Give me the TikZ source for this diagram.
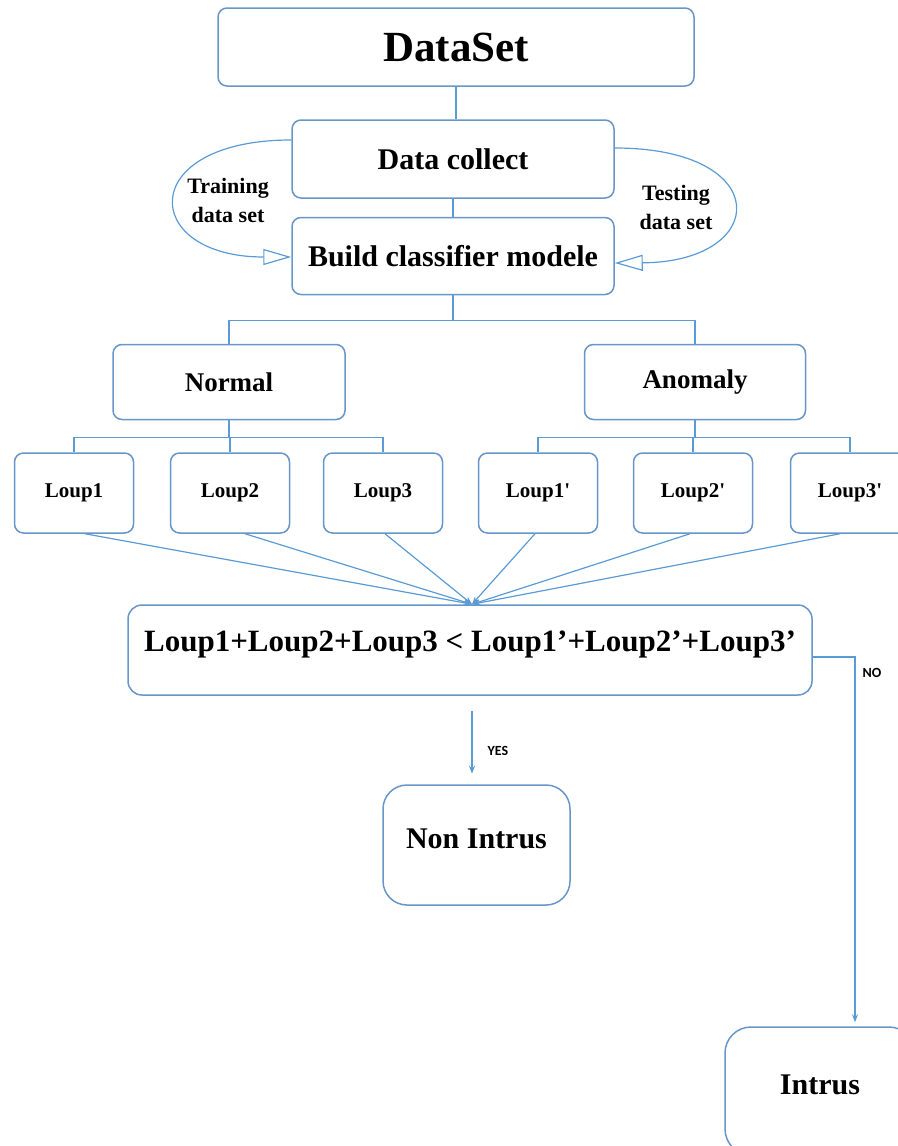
\documentclass[tikz,border=0pt]{standalone}
\usepackage{fontspec}
\setmainfont{Liberation Serif}
\newfontfamily\lblfont{Carlito}
\usetikzlibrary{arrows.meta,calc}
\definecolor{flow}{RGB}{91,155,213}
\definecolor{edge}{RGB}{104,150,200}

\begin{document}
\begin{tikzpicture}[x=1pt,y=-1pt,
  box/.style={draw=edge, line width=1.5pt, rounded corners=9pt, fill=white,
    inner sep=0pt, align=center, font=\bfseries},
  loupbox/.style={box, minimum width=119pt, minimum height=80pt,
    font=\bfseries\fontsize{21}{25}\selectfont},
  conn/.style={draw=flow, line width=1.2pt},
  fan/.style={conn, -{Stealth[length=8pt,width=6pt]}},
  loopline/.style={conn, -{Triangle[open,length=28pt,width=16pt,line width=1.2pt]}},
  sidetext/.style={align=center, font=\bfseries\fontsize{22}{29}\selectfont},
  yesno/.style={font=\lblfont\bfseries\fontsize{14}{16}\selectfont}]
\useasboundingbox (0,0) rectangle (897,1146);

% main chain
\node[box, minimum width=476pt, minimum height=78pt,
  font=\bfseries\fontsize{43}{48}\selectfont] (ds) at (456,47) {DataSet};
\node[box, minimum width=322pt, minimum height=78pt,
  font=\bfseries\fontsize{30}{34}\selectfont] (dc) at (453,159) {Data collect};
\node[box, minimum width=322pt, minimum height=77pt,
  font=\bfseries\fontsize{30}{34}\selectfont] (bc) at (453,256) {Build classifier modele};

% classes
\node[box, minimum width=232pt, minimum height=75pt,
  font=\bfseries\fontsize{27}{31}\selectfont] (normal) at (229,382) {Normal};
\node[box, minimum width=221pt, minimum height=75pt,
  font=\bfseries\fontsize{27}{31}\selectfont] (anomaly) at (695,382) {Anomaly};

% loups
\node[loupbox] (l1) at (74,493) {Loup1};
\node[loupbox] (l2) at (230,493) {Loup2};
\node[loupbox] (l3) at (383,493) {Loup3};
\node[loupbox] (m1) at (538,493) {Loup1\textquotesingle};
\node[loupbox] (m2) at (693,493) {Loup2\textquotesingle};
\node[loupbox] (m3) at (850,493) {Loup3\textquotesingle};

% decision and outcomes
\node[box, minimum width=684pt, rounded corners=14pt,
  text height=46pt, text depth=44pt,
  font=\bfseries\fontsize{31}{35}\selectfont] (cond) at (470,650)
  {Loup1+Loup2+Loup3 < Loup1’+Loup2’+Loup3’};
\node[box, minimum width=187pt, rounded corners=24pt,
  text height=63pt, text depth=57pt,
  font=\bfseries\fontsize{30}{34}\selectfont] (nonintrus) at (476.5,845) {Non Intrus};
\node[box, minimum width=190pt, rounded corners=26pt,
  text height=67pt, text depth=61pt,
  font=\bfseries\fontsize{30}{34}\selectfont] (intrus) at (820,1091) {Intrus};

% tree connectors
\draw[conn] (ds.south) -- (ds.south |- dc.north);
\draw[conn] (dc.south) -- (bc.north);
\draw[conn] (bc.south) -- ($(bc.south)+(0,25)$) coordinate (split);
\draw[conn] (normal.north) |- (split) -| (anomaly.north);
\draw[conn] (normal.south) -- ($(normal.south)+(0,17)$) coordinate (nsplit);
\draw[conn] (l1.north) |- (nsplit) -| (l3.north);
\draw[conn] (l2.north) -- (l2.north |- nsplit);
\draw[conn] (anomaly.south) -- ($(anomaly.south)+(0,17)$) coordinate (asplit);
\draw[conn] (m1.north) |- (asplit) -| (m3.north);
\draw[conn] (m2.north) -- (m2.north |- asplit);

% training / testing loops
\draw[loopline] ($(dc.west)+(0,-19)$) .. controls (135,140) and (140,257) .. ($(bc.west)+(0,1)$);
\draw[loopline] ($(dc.east)+(0,-11)$) .. controls (775,148) and (770,262) .. ($(bc.east)+(0,7)$);
\node[sidetext] (train) at (228,200) {Training\\data set};
\node[sidetext] (test) at (676,207) {Testing\\data set};

% loups converge on the decision
\coordinate (meet) at ($(cond.north)+(2,0)$);
\draw[fan] ($(l1.south)+(11,0)$) -- (meet);
\draw[fan] ($(l2.south)+(15,0)$) -- (meet);
\draw[fan] ($(l3.south)+(2,0)$) -- (meet);
\draw[fan] ($(m1.south)+(-3,0)$) -- (meet);
\draw[fan] ($(m2.south)+(-3,0)$) -- (meet);
\draw[fan] ($(m3.south)+(-10,0)$) -- (meet);

% outcomes
\coordinate (yesA) at ($(cond.south)+(2,15)$);
\coordinate (yesB) at ($(cond.south)+(2,78)$);
\draw[fan] (yesA) -- (yesB);
\node[yesno] (yes) at (498,751) {YES};
\draw[fan] ($(cond.east)+(0,7)$) -| ($(intrus.north)+(35,-4)$);
\node[yesno] (no) at (872,673) {NO};
\end{tikzpicture}
\end{document}
